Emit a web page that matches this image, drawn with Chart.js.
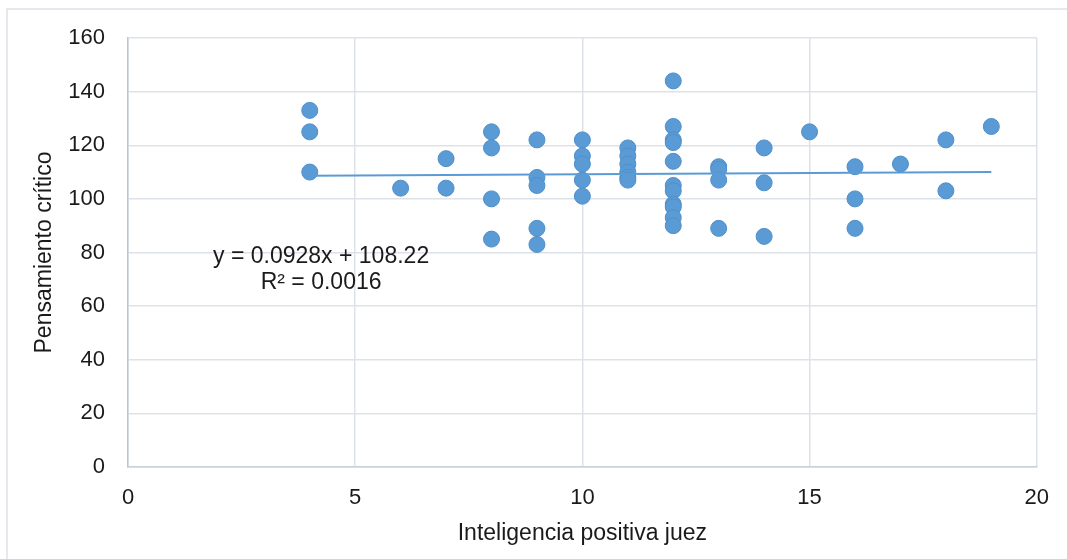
<!DOCTYPE html>
<html>
<head>
<meta charset="utf-8">
<script src="https://cdn.jsdelivr.net/npm/chart.js@4"></script>
<style>
  html, body { margin: 0; padding: 0; background: #ffffff; }
  #wrap { position: relative; width: 1067px; height: 559px; }
</style>
</head>
<body>
<div id="wrap"><canvas id="c" width="1067" height="559"></canvas></div>
<script>
// Data
const xValues = [4, 4, 4,
  6,
  7, 7,
  8, 8, 8, 8,
  9, 9, 9, 9, 9,
  10, 10, 10, 10, 10,
  11, 11, 11, 11, 11, 11,
  12, 12, 12, 12, 12, 12, 12, 12, 12, 12, 12,
  13, 13, 13, 13,
  14, 14, 14,
  15,
  16, 16, 16,
  17,
  18, 18,
  19];
const yValues = [133, 125, 110,
  104,
  115, 104,
  125, 119, 100, 85,
  122, 108, 105, 89, 83,
  122, 116, 113, 107, 101,
  119, 116, 113, 110, 108, 107,
  144, 127, 122, 121, 114, 105, 103, 98, 97, 93, 90,
  112, 111, 107, 89,
  119, 106, 86,
  125,
  112, 100, 89,
  113,
  122, 103,
  127];
const trendSlope = 0.0928;
const trendIntercept = 108.22;
const trendRange = [4, 19];
const equationLines = ["y = 0.0928x + 108.22", "R\u00b2 = 0.0016"];
const equationAnchor = { x: 4.25, y: 73.5 };
const xTicks = [0, 5, 10, 15, 20];
const yTicks = [0, 20, 40, 60, 80, 100, 120, 140, 160];
const xTitle = "Inteligencia positiva juez";
const yTitle = "Pensamiento crítico";

const points = xValues.map((x, i) => ({ x: x, y: yValues[i] }));
const trendPoints = trendRange.map(x => ({ x: x, y: trendSlope * x + trendIntercept }));

const FONT = "'Liberation Sans', Arial, sans-serif";
const TEXT = "#1a1a1a";
const GRID = "#dde1e8";

const framePlugin = {
  id: 'frame',
  beforeDraw(chart) {
    const ctx = chart.ctx;
    ctx.save();
    ctx.fillStyle = '#ffffff';
    ctx.fillRect(0, 0, chart.width, chart.height);
    ctx.strokeStyle = '#dde1e8';
    ctx.lineWidth = 1.5;
    ctx.strokeRect(7, 9, 1200, 700);
    ctx.restore();
  }
};

const equationPlugin = {
  id: 'equation',
  afterDatasetsDraw(chart) {
    const ctx = chart.ctx;
    const xs = chart.scales.x, ys = chart.scales.y;
    const cx = xs.getPixelForValue(equationAnchor.x);
    const cy = ys.getPixelForValue(equationAnchor.y);
    ctx.save();
    ctx.font = "23px " + FONT;
    ctx.fillStyle = TEXT;
    ctx.textAlign = 'center';
    ctx.textBaseline = 'middle';
    ctx.fillText(equationLines[0], cx, cy - 13);
    ctx.fillText(equationLines[1], cx, cy + 13);
    ctx.restore();
  }
};

new Chart(document.getElementById('c'), {
  type: 'scatter',
  data: {
    datasets: [
      {
        label: 'Datos',
        data: points,
        backgroundColor: '#5b9bd5',
        borderColor: '#4f8fcb',
        borderWidth: 1,
        pointRadius: 8,
        pointHoverRadius: 8,
        order: 2
      },
      {
        label: 'Tendencia',
        type: 'line',
        data: trendPoints,
        borderColor: '#5b9bd5',
        borderWidth: 2,
        pointRadius: 0,
        fill: false,
        order: 1
      }
    ]
  },
  options: {
    responsive: false,
    animation: false,
    devicePixelRatio: 1,
    layout: { padding: { top: 38, right: 29, bottom: 0, left: 0 } },
    plugins: {
      legend: { display: false },
      tooltip: { enabled: false }
    },
    scales: {
      x: {
        type: 'linear',
        min: 0, max: 20,
        afterBuildTicks(scale) { scale.ticks = xTicks.map(v => ({ value: v })); },
        afterFit(scale) { scale.height = 92; },
        grid: { color: GRID, lineWidth: 1.5, drawTicks: false },
        border: { color: '#c9ced8', width: 1.5 },
        ticks: { color: TEXT, font: { family: FONT, size: 22 }, padding: 18, maxRotation: 0 },
        title: { display: true, text: xTitle, color: TEXT, font: { family: FONT, size: 23 }, padding: { top: 0, bottom: 12 } }
      },
      y: {
        type: 'linear',
        min: 0, max: 160,
        afterBuildTicks(scale) { scale.ticks = yTicks.map(v => ({ value: v })); },
        afterFit(scale) { scale.width = 128; },
        grid: { color: GRID, lineWidth: 1.5, drawTicks: false },
        border: { color: '#bcc5d3', width: 1.5 },
        ticks: { color: TEXT, font: { family: FONT, size: 22 }, padding: 23 },
        title: { display: true, text: yTitle, color: TEXT, font: { family: FONT, size: 23 }, padding: { top: 31, bottom: 0 } }
      }
    }
  },
  plugins: [framePlugin, equationPlugin]
});
</script>
</body>
</html>
